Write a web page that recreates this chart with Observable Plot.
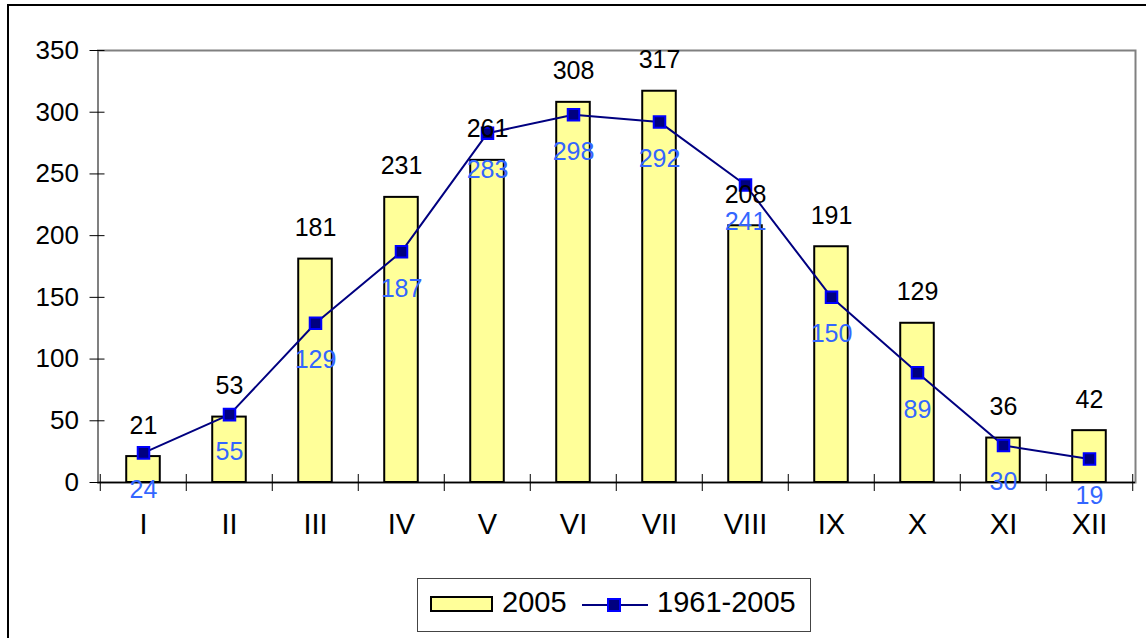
<!DOCTYPE html>
<html>
<head>
<meta charset="utf-8">
<script src="https://cdn.jsdelivr.net/npm/d3@7"></script>
<script src="https://cdn.jsdelivr.net/npm/@observablehq/plot@0.6"></script>
<style>
  body { margin: 0; background: #fff; font-family: "Liberation Sans", Arial, sans-serif; }
  #wrap { position: relative; width: 1146px; height: 638px; overflow: hidden; }
  #frame { position: absolute; left: 7px; top: 4px; width: 1200px; height: 700px; border-left: 2px solid #000; border-top: 2px solid #000; }
  #chart { position: absolute; left: 0; top: 0; }
  #legend { position: absolute; left: 417px; top: 578px; width: 392px; height: 52px; border: 1px solid #444; background: #fff; }
  .lg { position: absolute; font-size: 29px; color: #000; line-height: 1; white-space: nowrap; }
</style>
</head>
<body>
<div id="wrap">
  <div id="frame"></div>
  <div id="chart"></div>
  <div id="legend">
    <div style="position:absolute;left:12px;top:17px;width:59px;height:12px;background:#ffff99;border:2px solid #000;"></div>
    <div class="lg" style="left:84px;top:9px;">2005</div>
    <svg style="position:absolute;left:164px;top:15px;" width="68" height="22">
      <line x1="0" y1="11" x2="66" y2="11" stroke="#000080" stroke-width="2"/>
      <rect x="26" y="5" width="12" height="12" fill="#000080" stroke="#0000ff" stroke-width="2"/>
    </svg>
    <div class="lg" style="left:239px;top:9px;">1961-2005</div>
  </div>
</div>
<script>
const months = ["I","II","III","IV","V","VI","VII","VIII","IX","X","XI","XII"];
const values2005 = [21, 53, 181, 231, 261, 308, 317, 208, 191, 129, 36, 42];
const valuesNorm = [24, 55, 129, 187, 283, 298, 292, 241, 150, 89, 30, 19];
const yTicks = [0, 50, 100, 150, 200, 250, 300, 350];

const bars = months.map((m, i) => ({month: m, value: values2005[i]}));
const norm = months.map((m, i) => ({month: m, value: valuesNorm[i]}));

const W = 1146, H = 638, ML = 97.5, MR = 11, MT = 50, MB = 156;
const band = (W - ML - MR) / months.length;
const barW = 34;

const chart = Plot.plot({
  width: W,
  height: H,
  marginLeft: ML,
  marginRight: MR,
  marginTop: MT,
  marginBottom: MB,
  style: {fontFamily: "'Liberation Sans', Arial, sans-serif", fontSize: "25px", background: "transparent", overflow: "visible"},
  x: {domain: months, padding: 0},
  y: {domain: [0, 350]},
  marks: [
    Plot.frame({stroke: "#808080", strokeWidth: 2}),
    Plot.barY(bars, {x: "month", y: "value", fill: "#ffff99", stroke: "#000", strokeWidth: 2,
      insetLeft: (band - barW) / 2, insetRight: (band - barW) / 2}),
    Plot.ruleY([0], {stroke: "#000", strokeWidth: 1.5}),
    Plot.axisY({ticks: yTicks, tickSize: 15, dx: 7, text: null, label: null, stroke: "#000", strokeWidth: 1}),
    Plot.axisY({ticks: yTicks, tickSize: 0, tickPadding: 19, label: null, fill: "#000", fontSize: 26, line: true, stroke: "#333", strokeWidth: 2}),
    Plot.axisX({tickSize: 17, dx: -band / 2, dy: -8, text: null, stroke: "#000", label: null}),
    Plot.axisX({ticks: ["XII"], tickSize: 17, dx: band / 2, dy: -8, text: null, stroke: "#000", label: null}),
    Plot.axisX({tickSize: 0, tickPadding: 31, label: null, fill: "#000", fontSize: 29}),
    Plot.line(norm, {x: "month", y: "value", stroke: "#000080", strokeWidth: 2}),
    Plot.dot(norm, {x: "month", y: "value", symbol: "square", r: 6.5, fill: "#000080", stroke: "#0000ff", strokeWidth: 2}),
    Plot.text(bars, {x: "month", y: "value", text: d => String(d.value), dy: -31, fill: "#000", fontSize: 25}),
    Plot.text(norm, {x: "month", y: "value", text: d => String(d.value), dy: 37, fill: "#3366ff", fontSize: 25})
  ]
});
document.getElementById("chart").appendChild(chart);
</script>
</body>
</html>
